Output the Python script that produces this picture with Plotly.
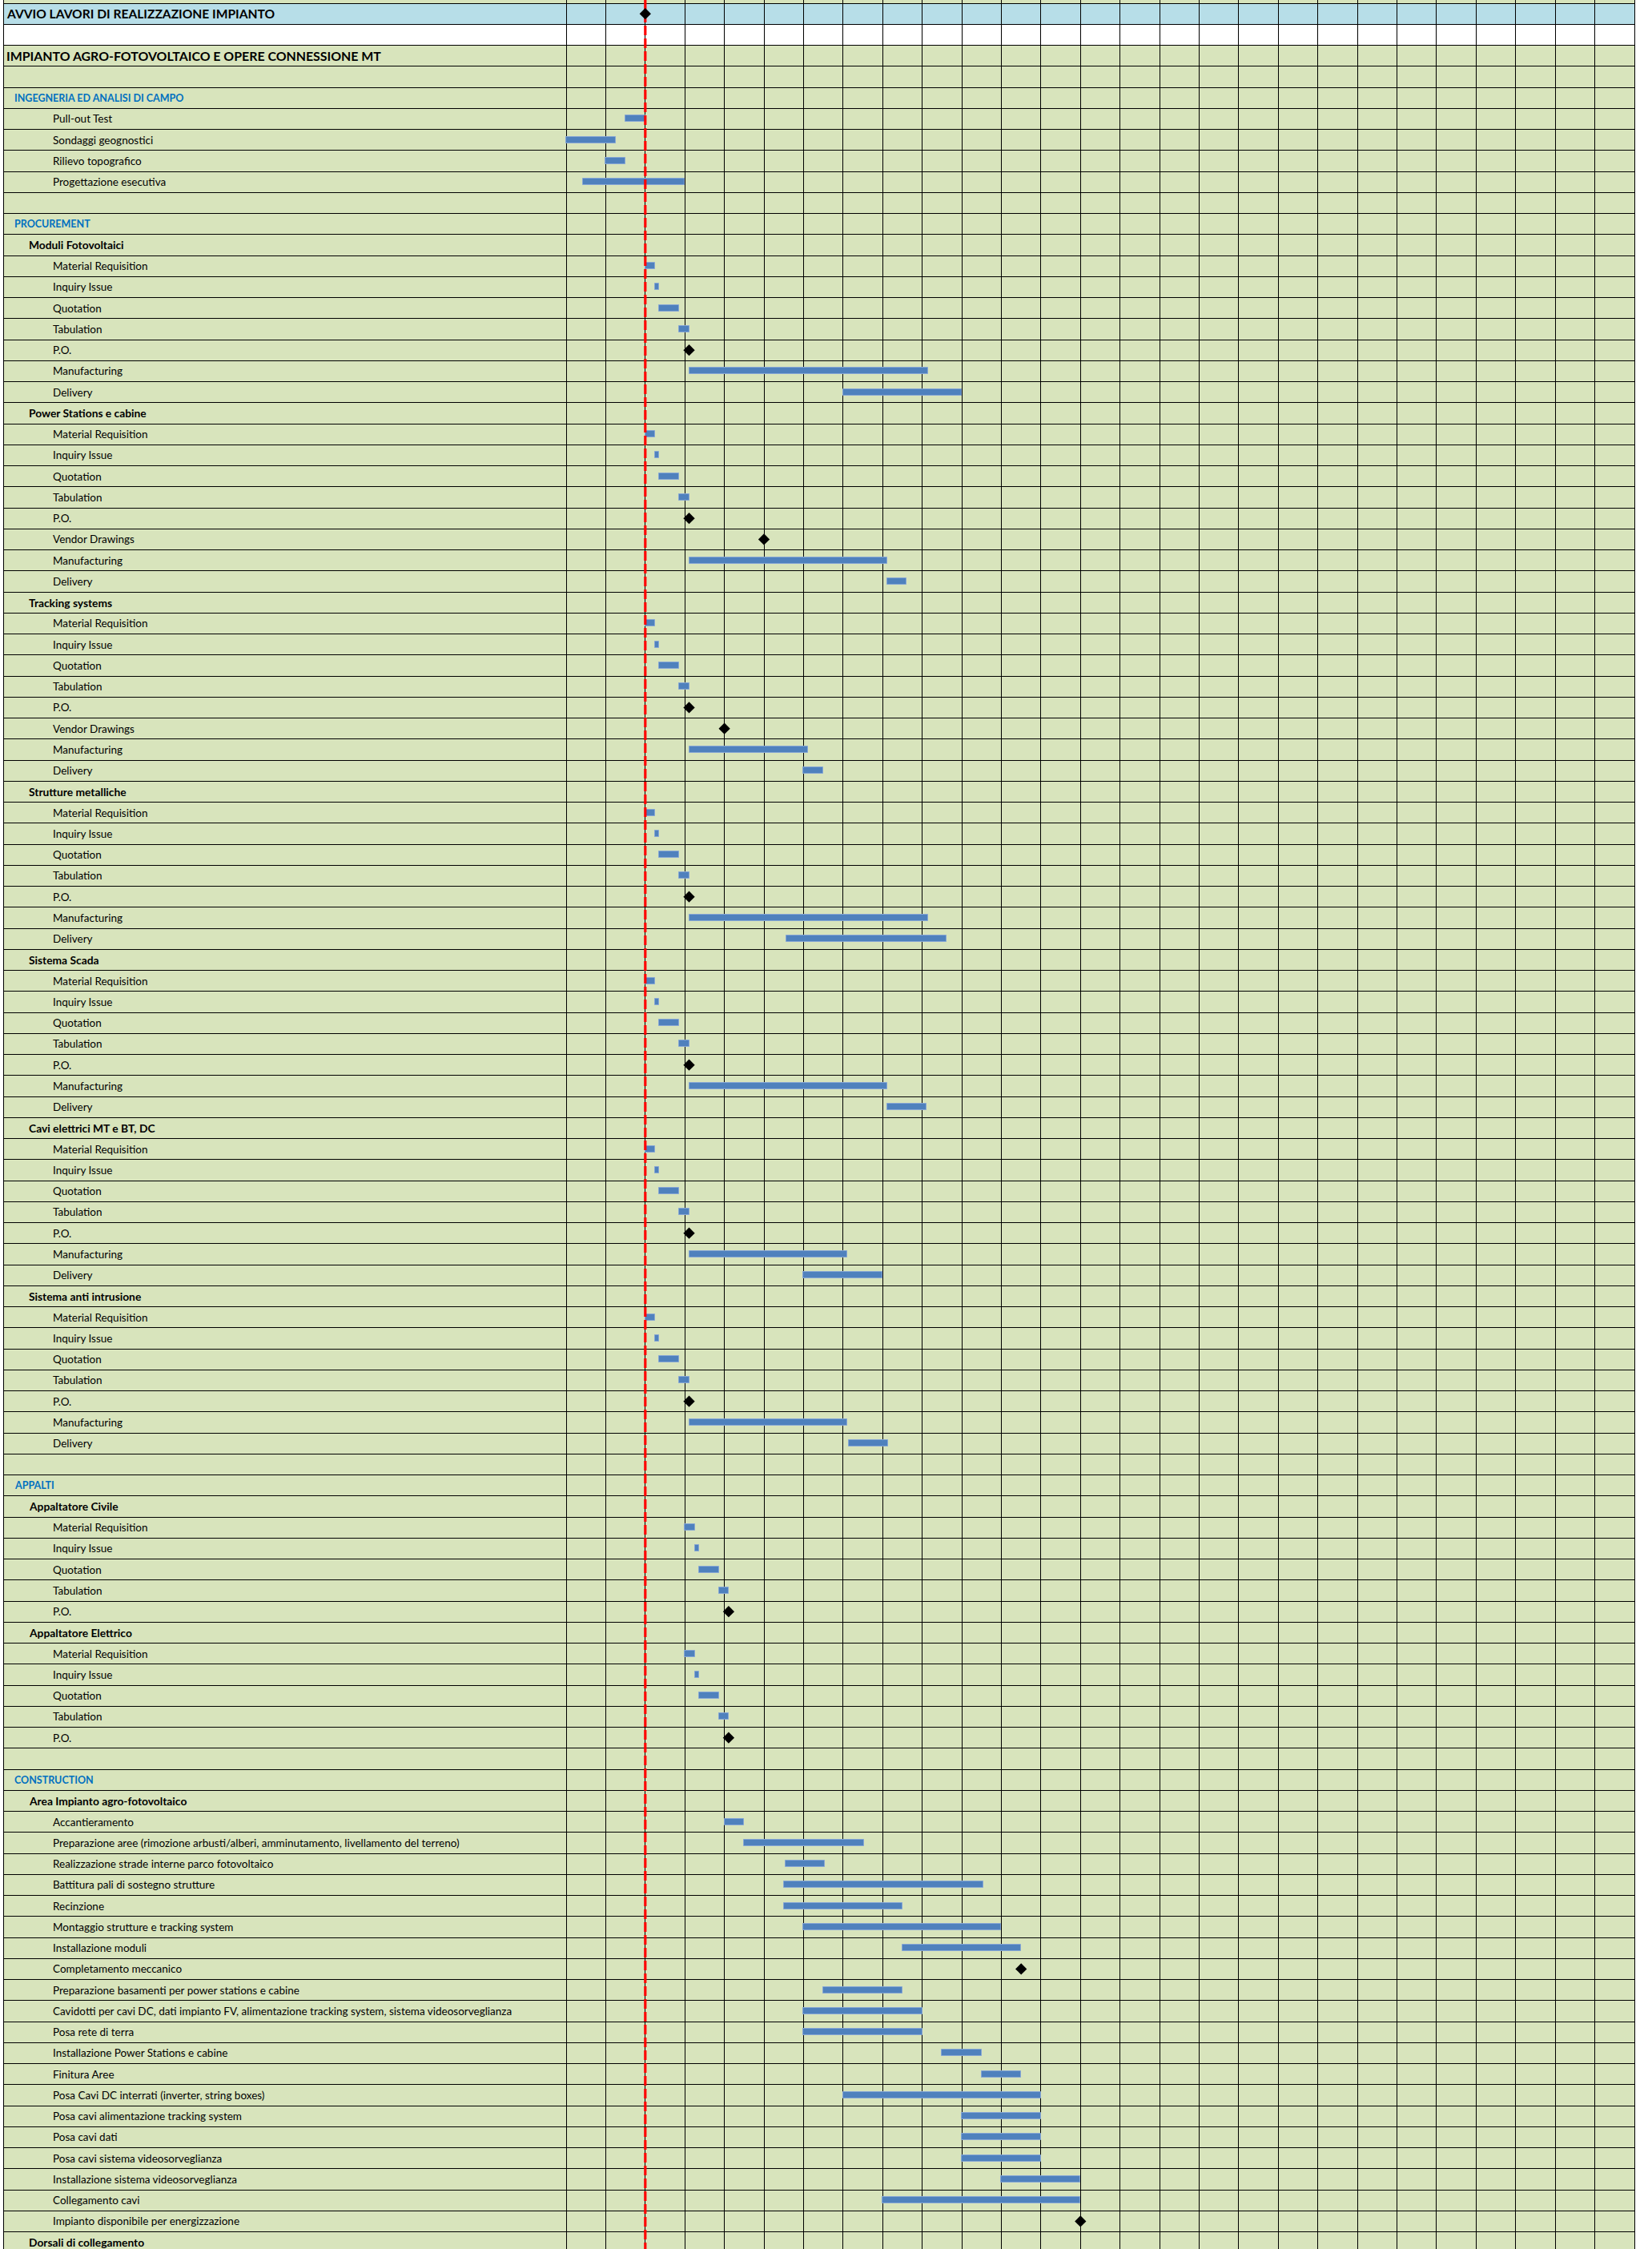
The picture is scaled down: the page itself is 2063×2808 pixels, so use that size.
import plotly.graph_objects as go

# ---------------- data ----------------
task_labels = [
    "AVVIO LAVORI DI REALIZZAZIONE IMPIANTO", "",
    "IMPIANTO AGRO-FOTOVOLTAICO E OPERE CONNESSIONE MT", "",
    "INGEGNERIA ED ANALISI DI CAMPO", "Pull-out Test", "Sondaggi geognostici",
    "Rilievo topografico", "Progettazione esecutiva", "",
    "PROCUREMENT",
    "Moduli Fotovoltaici", "Material Requisition", "Inquiry Issue", "Quotation", "Tabulation", "P.O.",
    "Manufacturing", "Delivery",
    "Power Stations e cabine", "Material Requisition", "Inquiry Issue", "Quotation", "Tabulation", "P.O.",
    "Vendor Drawings", "Manufacturing", "Delivery",
    "Tracking systems", "Material Requisition", "Inquiry Issue", "Quotation", "Tabulation", "P.O.",
    "Vendor Drawings", "Manufacturing", "Delivery",
    "Strutture metalliche", "Material Requisition", "Inquiry Issue", "Quotation", "Tabulation", "P.O.",
    "Manufacturing", "Delivery",
    "Sistema Scada", "Material Requisition", "Inquiry Issue", "Quotation", "Tabulation", "P.O.",
    "Manufacturing", "Delivery",
    "Cavi elettrici MT e BT, DC", "Material Requisition", "Inquiry Issue", "Quotation", "Tabulation", "P.O.",
    "Manufacturing", "Delivery",
    "Sistema anti intrusione", "Material Requisition", "Inquiry Issue", "Quotation", "Tabulation", "P.O.",
    "Manufacturing", "Delivery", "",
    "APPALTI",
    "Appaltatore Civile", "Material Requisition", "Inquiry Issue", "Quotation", "Tabulation", "P.O.",
    "Appaltatore Elettrico", "Material Requisition", "Inquiry Issue", "Quotation", "Tabulation", "P.O.", "",
    "CONSTRUCTION",
    "Area Impianto agro-fotovoltaico", "Accantieramento",
    "Preparazione aree (rimozione arbusti/alberi, amminutamento, livellamento del terreno)",
    "Realizzazione strade interne parco fotovoltaico", "Battitura pali di sostegno strutture",
    "Recinzione", "Montaggio strutture e tracking system", "Installazione moduli",
    "Completamento meccanico", "Preparazione basamenti per power stations e cabine",
    "Cavidotti per cavi DC, dati impianto FV, alimentazione tracking system, sistema videosorveglianza",
    "Posa rete di terra", "Installazione Power Stations e cabine", "Finitura Aree",
    "Posa Cavi DC interrati (inverter, string boxes)", "Posa cavi alimentazione tracking system",
    "Posa cavi dati", "Posa cavi sistema videosorveglianza", "Installazione sistema videosorveglianza",
    "Collegamento cavi", "Impianto disponibile per energizzazione",
    "Dorsali di collegamento",
]

# T = top banner, W = white blank, H = main title, B = blank, S = section, G = group, I = item
task_levels = (
    ["T", "W", "H", "B", "S", "I", "I", "I", "I", "B", "S"]
    + ["G"] + ["I"] * 7
    + ["G"] + ["I"] * 8
    + ["G"] + ["I"] * 8
    + ["G"] + ["I"] * 7
    + ["G"] + ["I"] * 7
    + ["G"] + ["I"] * 7
    + ["G"] + ["I"] * 7 + ["B"]
    + ["S"] + ["G"] + ["I"] * 5 + ["G"] + ["I"] * 5 + ["B"]
    + ["S", "G"] + ["I"] * 20 + ["G"]
)

# bars (row index, start day, end day); one column = 28 days
bar_rows = [5, 6, 7, 8,
            12, 13, 14, 15, 17, 18,
            20, 21, 22, 23, 26, 27,
            29, 30, 31, 32, 35, 36,
            38, 39, 40, 41, 43, 44,
            46, 47, 48, 49, 51, 52,
            54, 55, 56, 57, 59, 60,
            62, 63, 64, 65, 67, 68,
            72, 73, 74, 75,
            78, 79, 80, 81,
            86, 87, 88, 89, 90, 91, 92, 94, 95, 96, 97, 98, 99, 100, 101, 102, 103, 104]
bar_starts = [42, 0, 28, 12,
              56, 63, 66, 80, 87, 196,
              56, 63, 66, 80, 87, 227,
              56, 63, 66, 80, 87, 168,
              56, 63, 66, 80, 87, 156,
              56, 63, 66, 80, 87, 227,
              56, 63, 66, 80, 87, 168,
              56, 63, 66, 80, 87, 200,
              84, 91, 94, 108,
              84, 91, 94, 108,
              112, 126, 155, 154, 154, 168, 238, 182, 168, 168, 266, 294, 196, 280, 280, 280, 308, 224]
bar_ends = [56, 35, 42, 84,
            63, 66, 80, 87, 256, 280,
            63, 66, 80, 87, 227, 241,
            63, 66, 80, 87, 171, 182,
            63, 66, 80, 87, 256, 269,
            63, 66, 80, 87, 227, 255,
            63, 66, 80, 87, 199, 224,
            63, 66, 80, 87, 199, 228,
            91, 94, 108, 115,
            91, 94, 108, 115,
            126, 211, 183, 295, 238, 308, 322, 238, 252, 252, 294, 322, 336, 336, 336, 336, 364, 364]

milestone_rows = [0, 16, 24, 25, 33, 34, 42, 50, 58, 66, 76, 82, 93, 105]
milestone_days = [56, 87, 87, 140, 87, 112, 87, 87, 87, 87, 115, 115, 322, 364]

start_day = 56          # red dashed line
n_columns = 27
days_per_column = 28

# ---------------- styling ----------------
N = len(task_labels)
W, H = 2063, 2808
LEFT_PX, GRID0_PX, RIGHT_PX = 5, 707, 2041
TOP_PX, ROW_PX = 4, 26.25
px_per_day = (RIGHT_PX - GRID0_PX) / (n_columns * days_per_column)
x_min = -(GRID0_PX - LEFT_PX) / px_per_day
x_max = n_columns * days_per_column
y_top = -0.5 - TOP_PX / ROW_PX
y_bot = -0.5 + (H - TOP_PX) / ROW_PX

GREEN = "#d8e4bc"
BLUE_HDR = "#b7dee8"
BAR = "#4f81bd"
FONT = "Lato, 'Open Sans', sans-serif"

fig = go.Figure()

fig.add_trace(go.Bar(
    orientation="h",
    y=bar_rows,
    base=bar_starts,
    x=[e - s for s, e in zip(bar_starts, bar_ends)],
    width=0.3,
    marker=dict(color=BAR, line=dict(color="#86a6d4", width=1)),
    hoverinfo="skip",
    showlegend=False,
))

fig.add_trace(go.Scatter(
    x=[start_day, start_day], y=[y_top, y_bot], mode="lines",
    line=dict(color="#ff0000", width=3.2, dash="12px,4px"),
    hoverinfo="skip", showlegend=False,
))

fig.add_trace(go.Scatter(
    x=milestone_days, y=milestone_rows, mode="markers",
    marker=dict(symbol="diamond", color="black", size=11),
    hoverinfo="skip", showlegend=False,
))

shapes = [
    dict(type="rect", xref="x", yref="y", x0=x_min, x1=x_max, y0=-0.5, y1=0.5,
         fillcolor=BLUE_HDR, line=dict(width=0), layer="below"),
    dict(type="rect", xref="x", yref="y", x0=x_min, x1=x_max, y0=0.5, y1=1.5,
         fillcolor="white", line=dict(width=0), layer="below"),
]

style = {
    "T": dict(px=6, size=15.6, bold=True, color="black"),
    "H": dict(px=6, size=15.9, bold=True, color="black"),
    "S": dict(px=16, size=12.5, bold=True, color="#0070c0"),
    "G": dict(px=34, size=13.8, bold=True, color="black"),
    "I": dict(px=64, size=13.5, bold=False, color="black"),
}
annotations = []
for i, (lab, lev) in enumerate(zip(task_labels, task_levels)):
    if not lab or lev not in style:
        continue
    st = style[lev]
    annotations.append(dict(
        x=st["px"] / W, xref="paper", y=i, yref="y", xanchor="left", yanchor="middle",
        text=f"<b>{lab}</b>" if st["bold"] else lab, showarrow=False,
        font=dict(family=FONT, size=st["size"], color=st["color"]),
    ))

fig.update_layout(
    width=W, height=H, autosize=False,
    margin=dict(l=0, r=0, t=0, b=0, pad=0),
    paper_bgcolor="white", plot_bgcolor=GREEN,
    shapes=shapes, annotations=annotations,
    showlegend=False, bargap=0,
    xaxis=dict(
        domain=[LEFT_PX / W, RIGHT_PX / W], range=[x_min, x_max],
        tickmode="array", tickvals=[k * days_per_column for k in range(n_columns + 1)],
        showticklabels=False, ticks="", showgrid=True, gridcolor="black", gridwidth=1.4,
        zeroline=False, showline=False, fixedrange=True,
    ),
    yaxis=dict(
        domain=[0, 1], range=[y_bot, y_top],
        tickmode="array", tickvals=[k - 0.5 for k in range(N + 2)],
        showticklabels=False, ticks="", showgrid=True, gridcolor="black", gridwidth=1.4,
        zeroline=False, showline=True, mirror=True, linecolor="black", linewidth=1.4,
        fixedrange=True,
    ),
)

fig.write_html("out.html", config={"displayModeBar": False},
               post_script="document.body.style.margin='0px';")
